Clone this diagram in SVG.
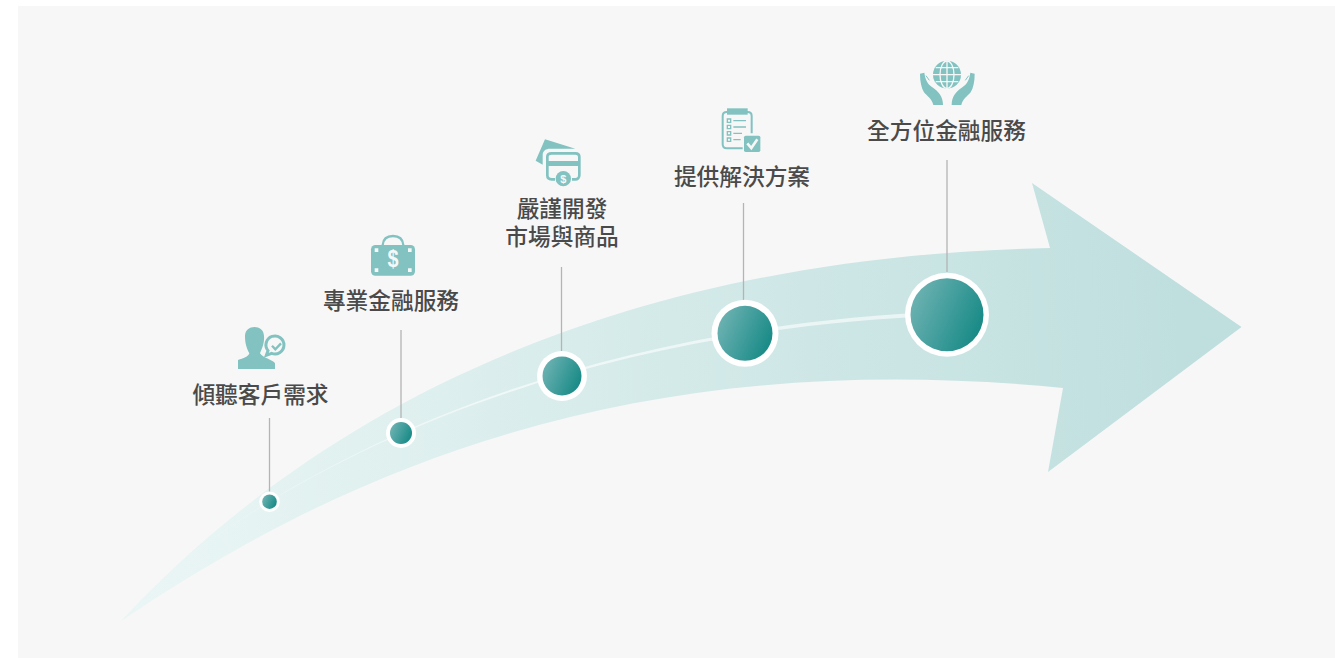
<svg xmlns="http://www.w3.org/2000/svg" width="1335" height="658" viewBox="0 0 1335 658">
<style>
.lab{font-family:"Noto Sans CJK TC","Noto Sans CJK SC",sans-serif;font-size:22.7px;font-weight:500;fill:#4a4a4a;text-anchor:middle}
.stem{stroke:#b4b4b4;stroke-width:1.3;fill:none}
.ring{fill:#fff}
.dot{fill:url(#dotG)}
.ic{fill:#82c2c0}
.ico{fill:none;stroke:#82c2c0}
.wl{fill:none;stroke:#f7f7f7}
.dl{font-family:"Liberation Sans",sans-serif;font-weight:700;fill:#f7f7f7;text-anchor:middle}
</style>
<defs>
<linearGradient id="arrG" gradientUnits="userSpaceOnUse" x1="120" y1="400" x2="1180" y2="330">
<stop offset="0" stop-color="#eaf6f5"/><stop offset="1" stop-color="#bfdfde"/>
</linearGradient>
<linearGradient id="dotG" x1="0" y1="0.25" x2="1" y2="0.7">
<stop offset="0" stop-color="#6fb3b3"/><stop offset="1" stop-color="#158985"/>
</linearGradient>
<linearGradient id="lnG" gradientUnits="userSpaceOnUse" x1="165" y1="0" x2="500" y2="0">
<stop offset="0" stop-color="#fff" stop-opacity="0.15"/><stop offset="1" stop-color="#fff" stop-opacity="0.6"/>
</linearGradient>
</defs>
<rect x="0" y="0" width="1335" height="658" fill="#fff"/>
<rect x="18" y="6" width="1317" height="652" fill="#f7f7f7"/>
<path id="arrow" fill="url(#arrG)" d="M120 622 C280 450 560 258 1050 248 L1032 183 L1241.500 327 L1048 472 L1063 388 C700 352 400 430 120 622Z"/>
<g id="connectors">
<path fill="url(#lnG)" d="M165 575 C330 440 600 325 947 311.500 L947 315.500 C600 328 330 441 165 575Z"/>
<path class="stem" d="M269.500 418V492M401 330V418M561.500 267V351M743.500 203V300M947 160V272"/>
</g>
<g id="node1">
<circle class="ring" cx="269.500" cy="501.700" r="10.300"/><circle class="dot" cx="269.500" cy="501.700" r="7.300"/>
<text class="lab" x="260.500" y="402.500">傾聽客戶需求</text>
<g transform="translate(180 310) scale(.33333)">
<path class="ic" d="M195 78C195 42 252 42 252 78C254 100 245 118 240 130C250 145 280 150 285 160V177H174V150C190 145 205 140 208 130C200 115 195 100 195 78Z"/>
<path class="ico" stroke-width="9" d="M264 122A27 27 0 1 1 275 130L259 136Z"/>
<path class="ico" stroke-width="7" d="M276 107L286 118L303 100"/>
</g>
</g>
<g id="node2">
<circle class="ring" cx="401" cy="433" r="15"/><circle class="dot" cx="401" cy="433" r="11"/>
<text class="lab" x="391" y="309">專業金融服務</text>
<g transform="translate(320 225) scale(.33333)">
<rect class="ic" x="153" y="60" width="132" height="92" rx="13"/>
<path class="ico" stroke-width="7" d="M188 60C190 37 205 33 219 33C233 33 248 37 250 60"/>
<path fill="#f7f7f7" d="M164 70h11v11h-11zM264 70h11v11h-11zM164 130h11v11h-11zM264 130h11v11h-11z"/>
<text class="dl" transform="translate(219 127) scale(.85 1)" font-size="70">$</text>
</g>
</g>
<g id="node3">
<circle class="ring" cx="562" cy="376" r="25"/><circle class="dot" cx="562" cy="376" r="19.500"/>
<text class="lab"><tspan x="562" y="217">嚴謹開發</tspan><tspan x="562" y="245">市場與商品</tspan></text>
<g transform="translate(500 130) scale(.33333)">
<path class="ic" d="M135 28L226 56H150C138 56 128 62 128 75V104L107 92Z"/>
<path class="ico" stroke-width="8" d="M165 148H155C147 148 142 143 142 136V80C142 73 147 70 155 70H226C233 70 238 73 238 80V136C238 143 233 148 226 148H216"/>
<rect class="ic" x="142" y="93" width="96" height="15"/>
<circle class="ic" cx="190" cy="146" r="23"/>
<text class="dl" x="190" y="158" font-size="33">$</text>
</g>
</g>
<g id="node4">
<circle class="ring" cx="745" cy="333.300" r="33.500"/><circle class="dot" cx="745" cy="333.300" r="27.500"/>
<text class="lab" x="742" y="185">提供解決方案</text>
<g transform="translate(670 100) scale(.33333)">
<path class="ico" stroke-width="6" d="M218 145H170C162 145 158 141 158 133V48C158 40 162 36 170 36H233C241 36 245 40 245 48V100"/>
<path class="ic" d="M171 25H233V44H171Z"/>
<path class="ico" stroke-width="4" d="M172 57h10v10h-10zM172 76h10v10h-10zM172 95h10v10h-10zM172 114h10v10h-10zM190 62h38M190 81h38M190 100h26M190 119h22"/>
<rect class="ic" x="222" y="107" width="49" height="49" rx="5"/>
<path class="wl" stroke-width="8" d="M232 130L244 144L262 118"/>
</g>
</g>
<g id="node5">
<circle class="ring" cx="947" cy="314.700" r="42"/><circle class="dot" cx="947" cy="314.700" r="36.500"/>
<text class="lab" x="946.500" y="139">全方位金融服務</text>
<g transform="translate(860 55) scale(.33333)">
<circle class="ic" cx="261" cy="59" r="42"/>
<g class="wl" stroke-width="4">
<ellipse cx="261" cy="59" rx="21" ry="41"/>
<path d="M261 17V101M219 59H303M227 38H295M227 80H295"/>
</g>
<path class="ic" d="M180 56L193 53C196 74 202 86 216 96C236 110 249 124 249 150H220C216 132 202 124 192 112C184 98 180 80 180 56Z"/>
<path class="ic" d="M344 56L331 53C328 74 322 86 308 96C288 110 275 124 275 150H304C308 132 322 124 332 112C340 98 344 80 344 56Z"/>
<path class="ico" stroke-width="3" d="M198 62L208 76M326 62L316 76"/>
</g>
</g>
</svg>
